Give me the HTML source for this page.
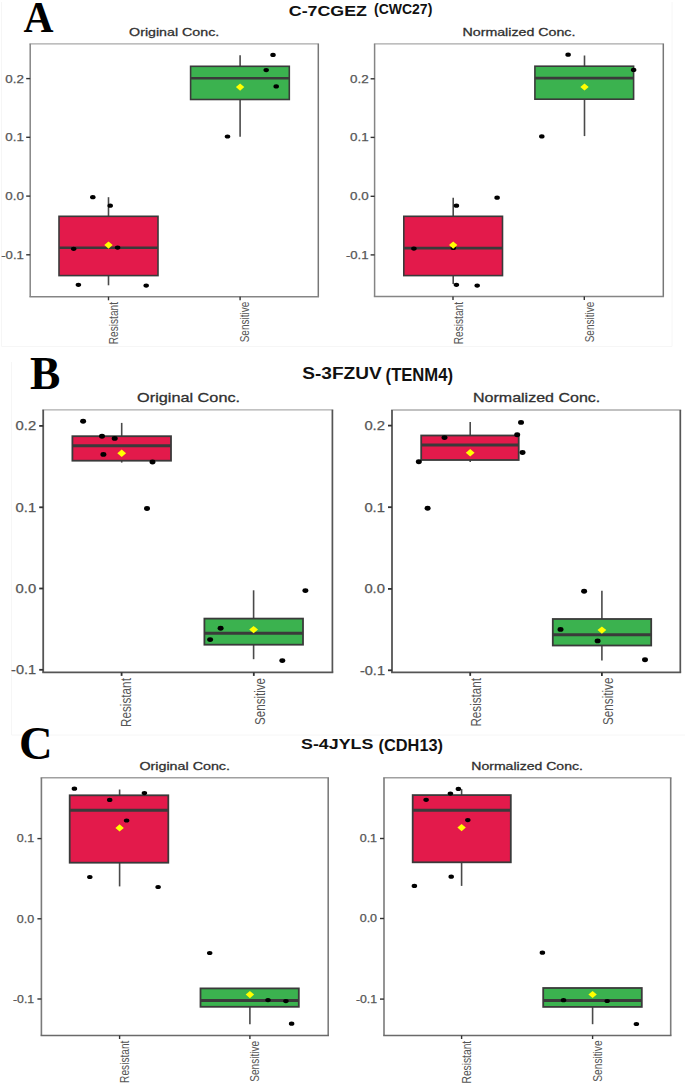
<!DOCTYPE html>
<html><head><meta charset="utf-8"><style>
html,body{margin:0;padding:0;background:#fff;}
svg{display:block;}
</style></head><body>
<svg width="685" height="1084" viewBox="0 0 685 1084">
<rect width="685" height="1084" fill="#fff"/>
<path d="M1.5 2 V346.5 H672 V2" fill="none" stroke="#f6f6f6" stroke-width="1"/>
<path d="M11.5 362 V735 H685" fill="none" stroke="#f6f6f6" stroke-width="1"/>
<line x1="108.5" y1="197.2" x2="108.5" y2="216.3" stroke="#4a4a4a" stroke-width="1.6"/>
<line x1="108.5" y1="275.6" x2="108.5" y2="285.3" stroke="#4a4a4a" stroke-width="1.6"/>
<rect x="59" y="216.3" width="99.0" height="59.3" fill="#e31a4b" stroke="#3a3a3a" stroke-width="1.6"/>
<line x1="59" y1="247.8" x2="158" y2="247.8" stroke="#3a3a3a" stroke-width="2.6"/>
<line x1="240.1" y1="55.3" x2="240.1" y2="66.3" stroke="#4a4a4a" stroke-width="1.6"/>
<line x1="240.1" y1="99.5" x2="240.1" y2="136.7" stroke="#4a4a4a" stroke-width="1.6"/>
<rect x="190.6" y="66.3" width="98.7" height="33.2" fill="#3bb24f" stroke="#3a3a3a" stroke-width="1.6"/>
<line x1="190.6" y1="78.2" x2="289.3" y2="78.2" stroke="#3a3a3a" stroke-width="2.6"/>
<ellipse cx="92.8" cy="197.2" rx="2.75" ry="2.1" fill="#000"/>
<ellipse cx="110.2" cy="205.7" rx="2.75" ry="2.1" fill="#000"/>
<ellipse cx="73.7" cy="248.8" rx="2.75" ry="2.1" fill="#000"/>
<ellipse cx="117.6" cy="247.6" rx="2.75" ry="2.1" fill="#000"/>
<ellipse cx="78.4" cy="284.8" rx="2.75" ry="2.1" fill="#000"/>
<ellipse cx="146.2" cy="285.6" rx="2.75" ry="2.1" fill="#000"/>
<ellipse cx="273" cy="54.9" rx="2.75" ry="2.1" fill="#000"/>
<ellipse cx="266.2" cy="70.1" rx="2.75" ry="2.1" fill="#000"/>
<ellipse cx="276.2" cy="86.4" rx="2.75" ry="2.1" fill="#000"/>
<ellipse cx="227.5" cy="136.5" rx="2.75" ry="2.1" fill="#000"/>
<path d="M104.3 245.1 L108.5 241.5 L112.7 245.1 L108.5 248.7Z" fill="#ffff00"/>
<path d="M235.9 87.1 L240.1 83.5 L244.3 87.1 L240.1 90.7Z" fill="#ffff00"/>
<line x1="29.45" y1="43.8" x2="319.05" y2="43.8" stroke="#a8a8a8" stroke-width="1.3"/>
<line x1="318.3" y1="43.8" x2="318.3" y2="296.8" stroke="#777" stroke-width="1.5"/>
<line x1="30.2" y1="43.8" x2="30.2" y2="296.8" stroke="#858585" stroke-width="1.5"/>
<line x1="29.45" y1="296.8" x2="319.05" y2="296.8" stroke="#858585" stroke-width="1.5"/>
<line x1="26.2" y1="78.6" x2="30.2" y2="78.6" stroke="#333" stroke-width="1.4"/>
<text x="23.9" y="82.5" font-family="Liberation Sans" font-size="11.0" font-weight="normal" fill="#555555" text-anchor="end" textLength="18.6" lengthAdjust="spacingAndGlyphs" stroke="#555" stroke-width="0.25">0.2</text>
<line x1="26.2" y1="137.3" x2="30.2" y2="137.3" stroke="#333" stroke-width="1.4"/>
<text x="23.9" y="141.2" font-family="Liberation Sans" font-size="11.0" font-weight="normal" fill="#555555" text-anchor="end" textLength="18.6" lengthAdjust="spacingAndGlyphs" stroke="#555" stroke-width="0.25">0.1</text>
<line x1="26.2" y1="196.1" x2="30.2" y2="196.1" stroke="#333" stroke-width="1.4"/>
<text x="23.9" y="200.0" font-family="Liberation Sans" font-size="11.0" font-weight="normal" fill="#555555" text-anchor="end" textLength="18.6" lengthAdjust="spacingAndGlyphs" stroke="#555" stroke-width="0.25">0.0</text>
<line x1="26.2" y1="254.8" x2="30.2" y2="254.8" stroke="#333" stroke-width="1.4"/>
<text x="23.9" y="258.7" font-family="Liberation Sans" font-size="11.0" font-weight="normal" fill="#555555" text-anchor="end" textLength="22.7" lengthAdjust="spacingAndGlyphs" stroke="#555" stroke-width="0.25">-0.1</text>
<line x1="108.5" y1="296.8" x2="108.5" y2="300.3" stroke="#333" stroke-width="1.4"/>
<line x1="240.1" y1="296.8" x2="240.1" y2="300.3" stroke="#333" stroke-width="1.4"/>
<text transform="translate(117.8,344.3) rotate(-90)" x="0" y="0" font-family="Liberation Sans" font-size="13.5" fill="#555555" textLength="42.3" lengthAdjust="spacingAndGlyphs">Resistant</text>
<text transform="translate(249.3,342.3) rotate(-90)" x="0" y="0" font-family="Liberation Sans" font-size="13.5" fill="#555555" textLength="40.6" lengthAdjust="spacingAndGlyphs">Sensitive</text>
<text x="129.1" y="36.3" font-family="Liberation Sans" font-size="11.799999999999999" font-weight="normal" fill="#303030" text-anchor="start" textLength="90.1" lengthAdjust="spacingAndGlyphs" stroke="#303030" stroke-width="0.3">Original Conc.</text>
<line x1="453.2" y1="197.7" x2="453.2" y2="216.3" stroke="#4a4a4a" stroke-width="1.6"/>
<line x1="453.2" y1="275.6" x2="453.2" y2="284.1" stroke="#4a4a4a" stroke-width="1.6"/>
<rect x="403.8" y="216.3" width="98.7" height="59.3" fill="#e31a4b" stroke="#3a3a3a" stroke-width="1.6"/>
<line x1="403.8" y1="248.1" x2="502.5" y2="248.1" stroke="#3a3a3a" stroke-width="2.6"/>
<line x1="584.5" y1="55.5" x2="584.5" y2="66.2" stroke="#4a4a4a" stroke-width="1.6"/>
<line x1="584.5" y1="99.2" x2="584.5" y2="136.1" stroke="#4a4a4a" stroke-width="1.6"/>
<rect x="534.9" y="66.2" width="98.7" height="33.0" fill="#3bb24f" stroke="#3a3a3a" stroke-width="1.6"/>
<line x1="534.9" y1="78.1" x2="633.6" y2="78.1" stroke="#3a3a3a" stroke-width="2.6"/>
<ellipse cx="456.4" cy="205.7" rx="2.75" ry="2.1" fill="#000"/>
<ellipse cx="497.1" cy="197.7" rx="2.75" ry="2.1" fill="#000"/>
<ellipse cx="413.9" cy="248.6" rx="2.75" ry="2.1" fill="#000"/>
<ellipse cx="453.3" cy="248.0" rx="2.75" ry="2.1" fill="#000"/>
<ellipse cx="456.4" cy="284.8" rx="2.75" ry="2.1" fill="#000"/>
<ellipse cx="477.2" cy="285.6" rx="2.75" ry="2.1" fill="#000"/>
<ellipse cx="568.1" cy="54.7" rx="2.75" ry="2.1" fill="#000"/>
<ellipse cx="633.6" cy="69.9" rx="2.75" ry="2.1" fill="#000"/>
<ellipse cx="541.8" cy="136.4" rx="2.75" ry="2.1" fill="#000"/>
<path d="M449.0 245.1 L453.2 241.5 L457.4 245.1 L453.2 248.7Z" fill="#ffff00"/>
<path d="M580.3 87.0 L584.5 83.4 L588.7 87.0 L584.5 90.6Z" fill="#ffff00"/>
<line x1="373.85" y1="43.8" x2="664.05" y2="43.8" stroke="#a8a8a8" stroke-width="1.3"/>
<line x1="663.3" y1="43.8" x2="663.3" y2="296.6" stroke="#777" stroke-width="1.5"/>
<line x1="374.6" y1="43.8" x2="374.6" y2="296.6" stroke="#858585" stroke-width="1.5"/>
<line x1="373.85" y1="296.6" x2="664.05" y2="296.6" stroke="#858585" stroke-width="1.5"/>
<line x1="370.6" y1="78.8" x2="374.6" y2="78.8" stroke="#333" stroke-width="1.4"/>
<text x="368.6" y="82.7" font-family="Liberation Sans" font-size="11.0" font-weight="normal" fill="#555555" text-anchor="end" textLength="18.6" lengthAdjust="spacingAndGlyphs" stroke="#555" stroke-width="0.25">0.2</text>
<line x1="370.6" y1="137.4" x2="374.6" y2="137.4" stroke="#333" stroke-width="1.4"/>
<text x="368.6" y="141.3" font-family="Liberation Sans" font-size="11.0" font-weight="normal" fill="#555555" text-anchor="end" textLength="18.6" lengthAdjust="spacingAndGlyphs" stroke="#555" stroke-width="0.25">0.1</text>
<line x1="370.6" y1="196.3" x2="374.6" y2="196.3" stroke="#333" stroke-width="1.4"/>
<text x="368.6" y="200.2" font-family="Liberation Sans" font-size="11.0" font-weight="normal" fill="#555555" text-anchor="end" textLength="18.6" lengthAdjust="spacingAndGlyphs" stroke="#555" stroke-width="0.25">0.0</text>
<line x1="370.6" y1="254.9" x2="374.6" y2="254.9" stroke="#333" stroke-width="1.4"/>
<text x="368.6" y="258.8" font-family="Liberation Sans" font-size="11.0" font-weight="normal" fill="#555555" text-anchor="end" textLength="22.7" lengthAdjust="spacingAndGlyphs" stroke="#555" stroke-width="0.25">-0.1</text>
<line x1="453.0" y1="296.6" x2="453.0" y2="300.1" stroke="#333" stroke-width="1.4"/>
<line x1="584.3" y1="296.6" x2="584.3" y2="300.1" stroke="#333" stroke-width="1.4"/>
<text transform="translate(462.7,344.3) rotate(-90)" x="0" y="0" font-family="Liberation Sans" font-size="13.5" fill="#555555" textLength="42.3" lengthAdjust="spacingAndGlyphs">Resistant</text>
<text transform="translate(594.4,342.3) rotate(-90)" x="0" y="0" font-family="Liberation Sans" font-size="13.5" fill="#555555" textLength="40.6" lengthAdjust="spacingAndGlyphs">Sensitive</text>
<text x="462.5" y="36.3" font-family="Liberation Sans" font-size="11.799999999999999" font-weight="normal" fill="#303030" text-anchor="start" textLength="112.9" lengthAdjust="spacingAndGlyphs" stroke="#303030" stroke-width="0.3">Normalized Conc.</text>
<line x1="121.7" y1="422.9" x2="121.7" y2="436.2" stroke="#4a4a4a" stroke-width="1.6"/>
<line x1="121.7" y1="460.7" x2="121.7" y2="462.6" stroke="#4a4a4a" stroke-width="1.6"/>
<rect x="72.4" y="436.2" width="98.6" height="24.5" fill="#e31a4b" stroke="#3a3a3a" stroke-width="1.8"/>
<line x1="72.4" y1="445.8" x2="171.0" y2="445.8" stroke="#3a3a3a" stroke-width="3.0"/>
<line x1="253.6" y1="590.3" x2="253.6" y2="618.6" stroke="#4a4a4a" stroke-width="1.6"/>
<line x1="253.6" y1="644.7" x2="253.6" y2="659.2" stroke="#4a4a4a" stroke-width="1.6"/>
<rect x="204.4" y="618.6" width="98.6" height="26.1" fill="#3bb24f" stroke="#3a3a3a" stroke-width="1.8"/>
<line x1="204.4" y1="633.3" x2="303.0" y2="633.3" stroke="#3a3a3a" stroke-width="3.0"/>
<ellipse cx="83.1" cy="421.3" rx="3.0" ry="2.45" fill="#000"/>
<ellipse cx="102" cy="436.3" rx="3.0" ry="2.45" fill="#000"/>
<ellipse cx="114.7" cy="438.4" rx="3.0" ry="2.45" fill="#000"/>
<ellipse cx="103.4" cy="454.4" rx="3.0" ry="2.45" fill="#000"/>
<ellipse cx="152.5" cy="462" rx="3.0" ry="2.45" fill="#000"/>
<ellipse cx="147" cy="508.5" rx="3.0" ry="2.45" fill="#000"/>
<ellipse cx="305.4" cy="590.6" rx="3.0" ry="2.45" fill="#000"/>
<ellipse cx="220.6" cy="628.2" rx="3.0" ry="2.45" fill="#000"/>
<ellipse cx="210.1" cy="639.6" rx="3.0" ry="2.45" fill="#000"/>
<ellipse cx="282.3" cy="660.6" rx="3.0" ry="2.45" fill="#000"/>
<path d="M117.3 453.3 L121.7 449.6 L126.1 453.3 L121.7 457.0Z" fill="#ffff00"/>
<path d="M249.2 629.6 L253.6 625.9 L258.0 629.6 L253.6 633.3Z" fill="#ffff00"/>
<line x1="42.30" y1="409.8" x2="333.25" y2="409.8" stroke="#adadad" stroke-width="1.3"/>
<line x1="332.4" y1="409.8" x2="332.4" y2="672.4" stroke="#555" stroke-width="1.7"/>
<line x1="43.2" y1="409.8" x2="43.2" y2="672.4" stroke="#555" stroke-width="1.8"/>
<line x1="42.30" y1="672.4" x2="333.25" y2="672.4" stroke="#555" stroke-width="1.7"/>
<line x1="39.2" y1="425.9" x2="43.2" y2="425.9" stroke="#333" stroke-width="1.8"/>
<text x="36.2" y="430.2" font-family="Liberation Sans" font-size="12.3" font-weight="normal" fill="#555555" text-anchor="end" textLength="20.6" lengthAdjust="spacingAndGlyphs" stroke="#555" stroke-width="0.25">0.2</text>
<line x1="39.2" y1="507.3" x2="43.2" y2="507.3" stroke="#333" stroke-width="1.8"/>
<text x="36.2" y="511.6" font-family="Liberation Sans" font-size="12.3" font-weight="normal" fill="#555555" text-anchor="end" textLength="20.6" lengthAdjust="spacingAndGlyphs" stroke="#555" stroke-width="0.25">0.1</text>
<line x1="39.2" y1="588.5" x2="43.2" y2="588.5" stroke="#333" stroke-width="1.8"/>
<text x="36.2" y="592.8" font-family="Liberation Sans" font-size="12.3" font-weight="normal" fill="#555555" text-anchor="end" textLength="20.6" lengthAdjust="spacingAndGlyphs" stroke="#555" stroke-width="0.25">0.0</text>
<line x1="39.2" y1="669.8" x2="43.2" y2="669.8" stroke="#333" stroke-width="1.8"/>
<text x="36.2" y="674.1" font-family="Liberation Sans" font-size="12.3" font-weight="normal" fill="#555555" text-anchor="end" textLength="25.1" lengthAdjust="spacingAndGlyphs" stroke="#555" stroke-width="0.25">-0.1</text>
<line x1="121.6" y1="672.4" x2="121.6" y2="675.9" stroke="#333" stroke-width="1.8"/>
<line x1="253.8" y1="672.4" x2="253.8" y2="675.9" stroke="#333" stroke-width="1.8"/>
<text transform="translate(131.3,727.0) rotate(-90)" x="0" y="0" font-family="Liberation Sans" font-size="15" fill="#555555" textLength="48.9" lengthAdjust="spacingAndGlyphs">Resistant</text>
<text transform="translate(264.8,724.9) rotate(-90)" x="0" y="0" font-family="Liberation Sans" font-size="15" fill="#555555" textLength="46.9" lengthAdjust="spacingAndGlyphs">Sensitive</text>
<text x="137.1" y="402.1" font-family="Liberation Sans" font-size="13.6" font-weight="normal" fill="#303030" text-anchor="start" textLength="103.0" lengthAdjust="spacingAndGlyphs" stroke="#303030" stroke-width="0.3">Original Conc.</text>
<line x1="470.2" y1="422.1" x2="470.2" y2="435.5" stroke="#4a4a4a" stroke-width="1.6"/>
<line x1="470.2" y1="460" x2="470.2" y2="462" stroke="#4a4a4a" stroke-width="1.6"/>
<rect x="421.2" y="435.5" width="97.5" height="24.5" fill="#e31a4b" stroke="#3a3a3a" stroke-width="1.8"/>
<line x1="421.2" y1="444.9" x2="518.7" y2="444.9" stroke="#3a3a3a" stroke-width="3.0"/>
<line x1="601.9" y1="590.8" x2="601.9" y2="619" stroke="#4a4a4a" stroke-width="1.6"/>
<line x1="601.9" y1="645.5" x2="601.9" y2="660.4" stroke="#4a4a4a" stroke-width="1.6"/>
<rect x="552.8" y="619" width="98.4" height="26.5" fill="#3bb24f" stroke="#3a3a3a" stroke-width="1.8"/>
<line x1="552.8" y1="634.7" x2="651.2" y2="634.7" stroke="#3a3a3a" stroke-width="3.0"/>
<ellipse cx="444.5" cy="437.6" rx="3.0" ry="2.45" fill="#000"/>
<ellipse cx="418.8" cy="461.8" rx="3.0" ry="2.45" fill="#000"/>
<ellipse cx="521" cy="422.4" rx="3.0" ry="2.45" fill="#000"/>
<ellipse cx="517.2" cy="434.7" rx="3.0" ry="2.45" fill="#000"/>
<ellipse cx="522.5" cy="452.5" rx="3.0" ry="2.45" fill="#000"/>
<ellipse cx="427.6" cy="508.3" rx="3.0" ry="2.45" fill="#000"/>
<ellipse cx="584.1" cy="591.3" rx="3.0" ry="2.45" fill="#000"/>
<ellipse cx="560.5" cy="629.4" rx="3.0" ry="2.45" fill="#000"/>
<ellipse cx="597.6" cy="640.9" rx="3.0" ry="2.45" fill="#000"/>
<ellipse cx="645" cy="659.7" rx="3.0" ry="2.45" fill="#000"/>
<path d="M465.8 452.8 L470.2 449.1 L474.6 452.8 L470.2 456.5Z" fill="#ffff00"/>
<path d="M597.5 630.1 L601.9 626.4 L606.3 630.1 L601.9 633.8Z" fill="#ffff00"/>
<line x1="391.10" y1="410.0" x2="681.15" y2="410.0" stroke="#adadad" stroke-width="1.3"/>
<line x1="680.3" y1="410.0" x2="680.3" y2="672.4" stroke="#555" stroke-width="1.7"/>
<line x1="392.0" y1="410.0" x2="392.0" y2="672.4" stroke="#555" stroke-width="1.8"/>
<line x1="391.10" y1="672.4" x2="681.15" y2="672.4" stroke="#555" stroke-width="1.7"/>
<line x1="388.0" y1="425.6" x2="392.0" y2="425.6" stroke="#333" stroke-width="1.8"/>
<text x="385.0" y="429.9" font-family="Liberation Sans" font-size="12.3" font-weight="normal" fill="#555555" text-anchor="end" textLength="20.6" lengthAdjust="spacingAndGlyphs" stroke="#555" stroke-width="0.25">0.2</text>
<line x1="388.0" y1="507.2" x2="392.0" y2="507.2" stroke="#333" stroke-width="1.8"/>
<text x="385.0" y="511.5" font-family="Liberation Sans" font-size="12.3" font-weight="normal" fill="#555555" text-anchor="end" textLength="20.6" lengthAdjust="spacingAndGlyphs" stroke="#555" stroke-width="0.25">0.1</text>
<line x1="388.0" y1="588.9" x2="392.0" y2="588.9" stroke="#333" stroke-width="1.8"/>
<text x="385.0" y="593.2" font-family="Liberation Sans" font-size="12.3" font-weight="normal" fill="#555555" text-anchor="end" textLength="20.6" lengthAdjust="spacingAndGlyphs" stroke="#555" stroke-width="0.25">0.0</text>
<line x1="388.0" y1="670.3" x2="392.0" y2="670.3" stroke="#333" stroke-width="1.8"/>
<text x="385.0" y="674.6" font-family="Liberation Sans" font-size="12.3" font-weight="normal" fill="#555555" text-anchor="end" textLength="25.1" lengthAdjust="spacingAndGlyphs" stroke="#555" stroke-width="0.25">-0.1</text>
<line x1="470.2" y1="672.4" x2="470.2" y2="675.9" stroke="#333" stroke-width="1.8"/>
<line x1="601.9" y1="672.4" x2="601.9" y2="675.9" stroke="#333" stroke-width="1.8"/>
<text transform="translate(481.1,726.6) rotate(-90)" x="0" y="0" font-family="Liberation Sans" font-size="15" fill="#555555" textLength="48.6" lengthAdjust="spacingAndGlyphs">Resistant</text>
<text transform="translate(613.2,725.1) rotate(-90)" x="0" y="0" font-family="Liberation Sans" font-size="15" fill="#555555" textLength="47.6" lengthAdjust="spacingAndGlyphs">Sensitive</text>
<text x="473.0" y="402.0" font-family="Liberation Sans" font-size="13.6" font-weight="normal" fill="#303030" text-anchor="start" textLength="127.3" lengthAdjust="spacingAndGlyphs" stroke="#303030" stroke-width="0.3">Normalized Conc.</text>
<line x1="119.6" y1="789.5" x2="119.6" y2="795.3" stroke="#4a4a4a" stroke-width="1.6"/>
<line x1="119.6" y1="862.7" x2="119.6" y2="886.4" stroke="#4a4a4a" stroke-width="1.6"/>
<rect x="69.7" y="795.3" width="98.6" height="67.4" fill="#e31a4b" stroke="#3a3a3a" stroke-width="1.8"/>
<line x1="69.7" y1="810.3" x2="168.3" y2="810.3" stroke="#3a3a3a" stroke-width="3.0"/>
<line x1="249.9" y1="988.4" x2="249.9" y2="988.4" stroke="#4a4a4a" stroke-width="1.6"/>
<line x1="249.9" y1="1006.8" x2="249.9" y2="1024.2" stroke="#4a4a4a" stroke-width="1.6"/>
<rect x="200.5" y="988.4" width="98.3" height="18.4" fill="#3bb24f" stroke="#3a3a3a" stroke-width="1.8"/>
<line x1="200.5" y1="1000.6" x2="298.8" y2="1000.6" stroke="#3a3a3a" stroke-width="3.0"/>
<ellipse cx="74.4" cy="788.7" rx="2.75" ry="2.1" fill="#000"/>
<ellipse cx="109.7" cy="799.9" rx="2.75" ry="2.1" fill="#000"/>
<ellipse cx="144.4" cy="793.1" rx="2.75" ry="2.1" fill="#000"/>
<ellipse cx="126.6" cy="820.5" rx="2.75" ry="2.1" fill="#000"/>
<ellipse cx="89.8" cy="877" rx="2.75" ry="2.1" fill="#000"/>
<ellipse cx="158.1" cy="887" rx="2.75" ry="2.1" fill="#000"/>
<ellipse cx="209.7" cy="953" rx="2.75" ry="2.1" fill="#000"/>
<ellipse cx="268" cy="1000.1" rx="2.75" ry="2.1" fill="#000"/>
<ellipse cx="285.9" cy="1001.1" rx="2.75" ry="2.1" fill="#000"/>
<ellipse cx="291.6" cy="1023.7" rx="2.75" ry="2.1" fill="#000"/>
<path d="M115.4 827.9 L119.6 824.3 L123.8 827.9 L119.6 831.5Z" fill="#ffff00"/>
<path d="M245.7 994.6 L249.9 991.0 L254.1 994.6 L249.9 998.2Z" fill="#ffff00"/>
<line x1="40.60" y1="777.7" x2="329.00" y2="777.7" stroke="#a0a0a0" stroke-width="1.4"/>
<line x1="328.2" y1="777.7" x2="328.2" y2="1035.5" stroke="#7d7d7d" stroke-width="1.6"/>
<line x1="41.4" y1="777.7" x2="41.4" y2="1035.5" stroke="#7a7a7a" stroke-width="1.6"/>
<line x1="40.60" y1="1035.5" x2="329.00" y2="1035.5" stroke="#6a6a6a" stroke-width="1.6"/>
<line x1="37.4" y1="838.6" x2="41.4" y2="838.6" stroke="#333" stroke-width="1.4"/>
<text x="34.2" y="842.4" font-family="Liberation Sans" font-size="10.7" font-weight="normal" fill="#555555" text-anchor="end" textLength="17.4" lengthAdjust="spacingAndGlyphs" stroke="#555" stroke-width="0.25">0.1</text>
<line x1="37.4" y1="918.8" x2="41.4" y2="918.8" stroke="#333" stroke-width="1.4"/>
<text x="34.2" y="922.6" font-family="Liberation Sans" font-size="10.7" font-weight="normal" fill="#555555" text-anchor="end" textLength="17.4" lengthAdjust="spacingAndGlyphs" stroke="#555" stroke-width="0.25">0.0</text>
<line x1="37.4" y1="999.0" x2="41.4" y2="999.0" stroke="#333" stroke-width="1.4"/>
<text x="34.2" y="1002.8" font-family="Liberation Sans" font-size="10.7" font-weight="normal" fill="#555555" text-anchor="end" textLength="21.2" lengthAdjust="spacingAndGlyphs" stroke="#555" stroke-width="0.25">-0.1</text>
<line x1="119.6" y1="1035.5" x2="119.6" y2="1039.0" stroke="#333" stroke-width="1.4"/>
<line x1="249.9" y1="1035.5" x2="249.9" y2="1039.0" stroke="#333" stroke-width="1.4"/>
<text transform="translate(128.8,1082.9) rotate(-90)" x="0" y="0" font-family="Liberation Sans" font-size="13.5" fill="#555555" textLength="42.3" lengthAdjust="spacingAndGlyphs">Resistant</text>
<text transform="translate(259.1,1081.8) rotate(-90)" x="0" y="0" font-family="Liberation Sans" font-size="13.5" fill="#555555" textLength="41.0" lengthAdjust="spacingAndGlyphs">Sensitive</text>
<text x="139.4" y="770.0" font-family="Liberation Sans" font-size="11.799999999999999" font-weight="normal" fill="#303030" text-anchor="start" textLength="90.6" lengthAdjust="spacingAndGlyphs" stroke="#303030" stroke-width="0.3">Original Conc.</text>
<line x1="461.6" y1="789.1" x2="461.6" y2="795.1" stroke="#4a4a4a" stroke-width="1.6"/>
<line x1="461.6" y1="862.3" x2="461.6" y2="885.9" stroke="#4a4a4a" stroke-width="1.6"/>
<rect x="412.7" y="795.1" width="98.1" height="67.2" fill="#e31a4b" stroke="#3a3a3a" stroke-width="1.8"/>
<line x1="412.7" y1="810.2" x2="510.8" y2="810.2" stroke="#3a3a3a" stroke-width="3.0"/>
<line x1="592.6" y1="988.0" x2="592.6" y2="988.0" stroke="#4a4a4a" stroke-width="1.6"/>
<line x1="592.6" y1="1006.9" x2="592.6" y2="1024.2" stroke="#4a4a4a" stroke-width="1.6"/>
<rect x="543.2" y="988.0" width="98.6" height="18.9" fill="#3bb24f" stroke="#3a3a3a" stroke-width="1.8"/>
<line x1="543.2" y1="1000.5" x2="641.8" y2="1000.5" stroke="#3a3a3a" stroke-width="3.0"/>
<ellipse cx="458.4" cy="788.9" rx="2.75" ry="2.1" fill="#000"/>
<ellipse cx="450.4" cy="793.6" rx="2.75" ry="2.1" fill="#000"/>
<ellipse cx="426.1" cy="799.8" rx="2.75" ry="2.1" fill="#000"/>
<ellipse cx="467.8" cy="820.1" rx="2.75" ry="2.1" fill="#000"/>
<ellipse cx="451.2" cy="876.7" rx="2.75" ry="2.1" fill="#000"/>
<ellipse cx="414.4" cy="885.9" rx="2.75" ry="2.1" fill="#000"/>
<ellipse cx="542.4" cy="952.7" rx="2.75" ry="2.1" fill="#000"/>
<ellipse cx="563.5" cy="1000.2" rx="2.75" ry="2.1" fill="#000"/>
<ellipse cx="607.2" cy="1001" rx="2.75" ry="2.1" fill="#000"/>
<ellipse cx="636.4" cy="1024" rx="2.75" ry="2.1" fill="#000"/>
<path d="M457.4 827.6 L461.6 824.0 L465.8 827.6 L461.6 831.2Z" fill="#ffff00"/>
<path d="M588.4 994.5 L592.6 990.9 L596.8 994.5 L592.6 998.1Z" fill="#ffff00"/>
<line x1="383.20" y1="777.7" x2="671.50" y2="777.7" stroke="#a0a0a0" stroke-width="1.4"/>
<line x1="670.7" y1="777.7" x2="670.7" y2="1035.5" stroke="#7d7d7d" stroke-width="1.6"/>
<line x1="384.0" y1="777.7" x2="384.0" y2="1035.5" stroke="#7a7a7a" stroke-width="1.6"/>
<line x1="383.20" y1="1035.5" x2="671.50" y2="1035.5" stroke="#6a6a6a" stroke-width="1.6"/>
<line x1="380.0" y1="838.5" x2="384.0" y2="838.5" stroke="#333" stroke-width="1.4"/>
<text x="377.1" y="842.3" font-family="Liberation Sans" font-size="10.7" font-weight="normal" fill="#555555" text-anchor="end" textLength="17.4" lengthAdjust="spacingAndGlyphs" stroke="#555" stroke-width="0.25">0.1</text>
<line x1="380.0" y1="918.5" x2="384.0" y2="918.5" stroke="#333" stroke-width="1.4"/>
<text x="377.1" y="922.3" font-family="Liberation Sans" font-size="10.7" font-weight="normal" fill="#555555" text-anchor="end" textLength="17.4" lengthAdjust="spacingAndGlyphs" stroke="#555" stroke-width="0.25">0.0</text>
<line x1="380.0" y1="999.1" x2="384.0" y2="999.1" stroke="#333" stroke-width="1.4"/>
<text x="377.1" y="1002.9" font-family="Liberation Sans" font-size="10.7" font-weight="normal" fill="#555555" text-anchor="end" textLength="21.2" lengthAdjust="spacingAndGlyphs" stroke="#555" stroke-width="0.25">-0.1</text>
<line x1="461.6" y1="1035.5" x2="461.6" y2="1039.0" stroke="#333" stroke-width="1.4"/>
<line x1="592.6" y1="1035.5" x2="592.6" y2="1039.0" stroke="#333" stroke-width="1.4"/>
<text transform="translate(470.8,1083.5) rotate(-90)" x="0" y="0" font-family="Liberation Sans" font-size="13.5" fill="#555555" textLength="42.7" lengthAdjust="spacingAndGlyphs">Resistant</text>
<text transform="translate(602.4,1081.7) rotate(-90)" x="0" y="0" font-family="Liberation Sans" font-size="13.5" fill="#555555" textLength="41.3" lengthAdjust="spacingAndGlyphs">Sensitive</text>
<text x="471.3" y="770.0" font-family="Liberation Sans" font-size="11.799999999999999" font-weight="normal" fill="#303030" text-anchor="start" textLength="111.6" lengthAdjust="spacingAndGlyphs" stroke="#303030" stroke-width="0.3">Normalized Conc.</text>
<text x="23.6" y="32.0" font-family="Liberation Serif" font-size="44" font-weight="bold" fill="#000" text-anchor="start" textLength="30.0" lengthAdjust="spacingAndGlyphs" >A</text>
<text x="30.0" y="388.9" font-family="Liberation Serif" font-size="45.5" font-weight="bold" fill="#000" text-anchor="start" >B</text>
<text x="19.0" y="758.6" font-family="Liberation Serif" font-size="46.5" font-weight="bold" fill="#000" text-anchor="start" >C</text>
<text x="288.8" y="15.9" font-family="Liberation Sans" font-size="14.6" font-weight="bold" fill="#111" text-anchor="start" textLength="78.2" lengthAdjust="spacingAndGlyphs" >C-7CGEZ</text>
<text x="374.0" y="14.0" font-family="Liberation Sans" font-size="14" font-weight="bold" fill="#111" text-anchor="start" textLength="58.3" lengthAdjust="spacingAndGlyphs" >(CWC27)</text>
<text x="302.3" y="378.6" font-family="Liberation Sans" font-size="16.0" font-weight="bold" fill="#111" text-anchor="start" textLength="79.4" lengthAdjust="spacingAndGlyphs" >S-3FZUV</text>
<text x="385.6" y="380.8" font-family="Liberation Sans" font-size="17.5" font-weight="bold" fill="#111" text-anchor="start" textLength="67.4" lengthAdjust="spacingAndGlyphs" >(TENM4)</text>
<text x="301.0" y="748.9" font-family="Liberation Sans" font-size="14.8" font-weight="bold" fill="#111" text-anchor="start" textLength="72.3" lengthAdjust="spacingAndGlyphs" >S-4JYLS</text>
<text x="378.6" y="751.0" font-family="Liberation Sans" font-size="16.3" font-weight="bold" fill="#111" text-anchor="start" textLength="64.4" lengthAdjust="spacingAndGlyphs" >(CDH13)</text>
</svg>
</body></html>
